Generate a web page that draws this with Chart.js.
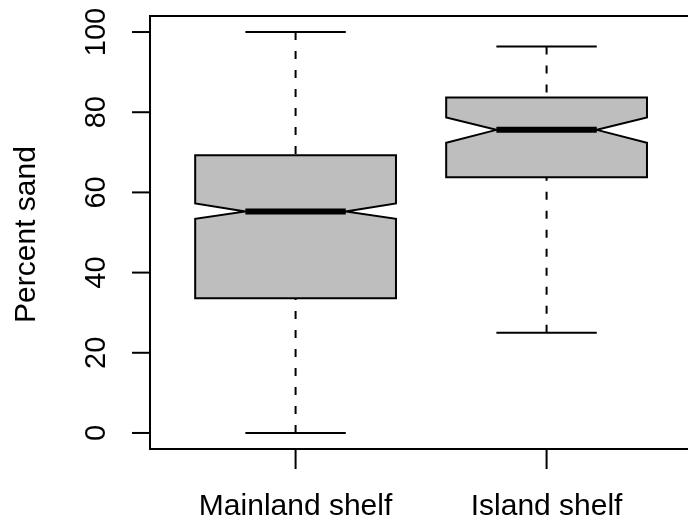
<!DOCTYPE html>
<html>
<head>
<meta charset="utf-8">
<script src="https://cdn.jsdelivr.net/npm/chart.js@4.4.1/dist/chart.umd.min.js"></script>
<style>
  html, body { margin: 0; padding: 0; background: #fff; }
  #wrap { width: 688px; height: 524px; }
</style>
</head>
<body>
<div id="wrap"><canvas id="chart" width="688" height="524"></canvas></div>
<script>
// data
const categories = ["Mainland shelf", "Island shelf"];
const whiskerLow = [0, 25];
const quartile1 = [33.6, 63.8];
const medians = [55.25, 75.6];
const quartile3 = [69.25, 83.7];
const whiskerHigh = [100, 96.4];
const notchLow = [53.4, 72.4];
const notchHigh = [57.25, 78.7];
const yTicks = [0, 20, 40, 60, 80, 100];

const FONT = "'Liberation Sans', Arial, Helvetica, sans-serif";

// draws the notched boxes, whiskers, frame and axes with the chart's scales
const boxplotPlugin = {
  id: "boxplot",
  afterDatasetsDraw(chart) {
    const ctx = chart.ctx;
    const xs = chart.scales.x;
    const ys = chart.scales.y;
    const area = chart.chartArea;

    ctx.save();
    ctx.strokeStyle = "#000";
    ctx.lineJoin = "miter";

    categories.forEach((cat, i) => {
      const c = i + 1;
      const px = (v) => xs.getPixelForValue(v);
      const py = (v) => ys.getPixelForValue(v);
      const cx = px(c);

      // whiskers (dashed)
      ctx.lineWidth = 2;
      ctx.setLineDash([8, 11]);
      ctx.beginPath();
      ctx.moveTo(cx, py(whiskerLow[i]));
      ctx.lineTo(cx, py(quartile1[i]));
      ctx.moveTo(cx, py(whiskerHigh[i]));
      ctx.lineTo(cx, py(quartile3[i]));
      ctx.stroke();
      ctx.setLineDash([]);

      // staples
      ctx.beginPath();
      ctx.moveTo(px(c - 0.2), py(whiskerLow[i]));
      ctx.lineTo(px(c + 0.2), py(whiskerLow[i]));
      ctx.moveTo(px(c - 0.2), py(whiskerHigh[i]));
      ctx.lineTo(px(c + 0.2), py(whiskerHigh[i]));
      ctx.stroke();

      // notched box
      const x0 = px(c - 0.4), x1 = px(c + 0.4);
      const n0 = px(c - 0.2), n1 = px(c + 0.2);
      ctx.beginPath();
      ctx.moveTo(x0, py(quartile1[i]));
      ctx.lineTo(x0, py(notchLow[i]));
      ctx.lineTo(n0, py(medians[i]));
      ctx.lineTo(x0, py(notchHigh[i]));
      ctx.lineTo(x0, py(quartile3[i]));
      ctx.lineTo(x1, py(quartile3[i]));
      ctx.lineTo(x1, py(notchHigh[i]));
      ctx.lineTo(n1, py(medians[i]));
      ctx.lineTo(x1, py(notchLow[i]));
      ctx.lineTo(x1, py(quartile1[i]));
      ctx.closePath();
      ctx.fillStyle = "#bebebe";
      ctx.fill();
      ctx.lineWidth = 2;
      ctx.stroke();

      // median
      ctx.lineWidth = 6;
      ctx.lineCap = "butt";
      ctx.beginPath();
      ctx.moveTo(n0, py(medians[i]));
      ctx.lineTo(n1, py(medians[i]));
      ctx.stroke();

      // x tick + label
      ctx.lineWidth = 2;
      ctx.beginPath();
      ctx.moveTo(cx, area.bottom);
      ctx.lineTo(cx, area.bottom + 20);
      ctx.stroke();
      ctx.fillStyle = "#000";
      ctx.font = "30px " + FONT;
      ctx.textAlign = "center";
      ctx.textBaseline = "alphabetic";
      ctx.fillText(cat, cx, 515);
    });

    // frame (right side falls just off the canvas, like the original)
    ctx.lineWidth = 2;
    const right = xs.getPixelForValue(2.58);
    ctx.strokeRect(area.left, area.top, right - area.left, area.bottom - area.top);

    // y ticks and rotated labels
    ctx.font = "29px " + FONT;
    ctx.fillStyle = "#000";
    yTicks.forEach((t) => {
      const y = ys.getPixelForValue(t);
      ctx.beginPath();
      ctx.moveTo(area.left - 18, y);
      ctx.lineTo(area.left, y);
      ctx.stroke();
      ctx.save();
      ctx.translate(105, y);
      ctx.rotate(-Math.PI / 2);
      ctx.textAlign = "center";
      ctx.textBaseline = "alphabetic";
      ctx.fillText(String(t), 0, 0);
      ctx.restore();
    });

    // y axis title
    ctx.save();
    ctx.font = "30px " + FONT;
    ctx.translate(35, (area.top + area.bottom) / 2 + 2);
    ctx.rotate(-Math.PI / 2);
    ctx.textAlign = "center";
    ctx.fillText("Percent sand", 0, 0);
    ctx.restore();

    ctx.restore();
  }
};

const config = {
  type: "scatter",
  data: {
    datasets: [
      {
        label: "median",
        data: medians.map((m, i) => ({ x: i + 1, y: m })),
        pointRadius: 0,
        pointHoverRadius: 0,
      },
    ],
  },
  options: {
    responsive: false,
    devicePixelRatio: 1,
    animation: false,
    layout: { padding: { left: 150, top: 16, right: 0, bottom: 75 } },
    scales: {
      x: { type: "linear", min: 0.42, max: 0.42 + 538 / 251, display: false },
      y: { type: "linear", min: -4, max: 104, display: false },
    },
    plugins: {
      legend: { display: false },
      tooltip: { enabled: false },
    },
  },
  plugins: [boxplotPlugin],
};

const myChart = new Chart(document.getElementById("chart"), config);
</script>
</body>
</html>
